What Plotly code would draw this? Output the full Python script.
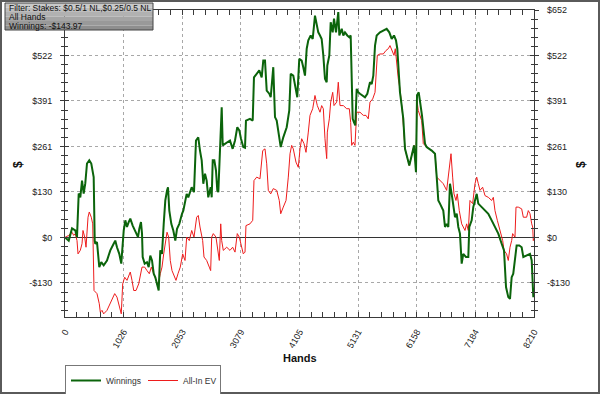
import numpy as np
import plotly.graph_objects as go

# ---------------- data ----------------
winnings_pts = [
    (0, 0), (65, -9), (123, 26), (180, 20), (210, 1), (240, 126), (268, 115), (298, 163), (327, 126), (355, 155),
    (385, 212), (425, 221), (460, 212), (485, 192), (502, 173), (520, -9), (530, -18), (560, -13), (600, -85), (635, -71),
    (677, -80), (735, -66), (793, -37), (852, -18), (880, -9), (910, -28), (950, -47), (985, -75), (1010, -9), (1028, 20),
    (1056, 49), (1085, 30), (1115, 44), (1143, 54), (1185, 34), (1231, 15), (1278, 1), (1301, 25), (1330, 44), (1348, 11),
    (1360, -56), (1395, -75), (1435, -71), (1465, -85), (1493, -52), (1523, -66), (1553, -104), (1581, -114), (1610, -133), (1640, -152),
    (1668, -37), (1698, -47), (1728, 39), (1756, 106), (1786, 135), (1803, 144), (1826, 77), (1861, 39), (1896, 20), (1931, -9),
    (1961, 25), (2001, 39), (2048, 68), (2071, 77), (2130, 125), (2158, 115), (2218, 144), (2258, 130), (2293, 278), (2333, 287),
    (2363, 249), (2393, 221), (2421, 154), (2451, 183), (2480, 163), (2508, 115), (2550, 144), (2568, 115), (2586, 221), (2614, 221),
    (2643, 192), (2666, 135), (2684, 130), (2713, 259), (2743, 373), (2761, 264), (2831, 273), (2888, 278), (2935, 254), (2976, 278),
    (3016, 316), (3051, 307), (3081, 283), (3121, 259), (3151, 257), (3168, 335), (3238, 340), (3286, 335), (3308, 459), (3356, 469),
    (3401, 479), (3443, 459), (3471, 507), (3501, 507), (3531, 421), (3576, 412), (3601, 402), (3646, 488), (3676, 345), (3706, 335),
    (3751, 287), (3776, 259), (3821, 287), (3881, 316), (3926, 364), (3951, 469), (3996, 464), (4026, 436), (4066, 402), (4101, 512),
    (4143, 507), (4171, 488), (4201, 464), (4231, 541), (4259, 565), (4301, 579), (4336, 569), (4376, 636), (4406, 608), (4434, 588),
    (4464, 579), (4493, 569), (4522, 522), (4551, 455), (4581, 445), (4592, 493), (4627, 522), (4651, 617), (4686, 588), (4709, 627),
    (4744, 588), (4784, 646), (4802, 579), (4844, 598), (4872, 579), (4901, 588), (4942, 579), (4977, 574), (5001, 579), (5019, 426),
    (5036, 340), (5059, 330), (5082, 321), (5106, 426), (5134, 416), (5164, 412), (5211, 407), (5251, 402), (5292, 412), (5339, 445),
    (5369, 440), (5397, 464), (5427, 550), (5456, 579), (5514, 588), (5584, 593), (5631, 598), (5677, 588), (5719, 569), (5759, 579),
    (5794, 565), (5817, 541), (5842, 474), (5864, 416), (5894, 378), (5922, 340), (5952, 254), (5992, 226), (6027, 206), (6069, 235),
    (6109, 264), (6144, 187), (6162, 407), (6192, 416), (6214, 393), (6249, 350), (6302, 269), (6331, 259), (6419, 249), (6477, 240),
    (6507, 173), (6535, 106), (6564, 97), (6622, 77), (6652, 30), (6681, 39), (6710, 30), (6739, 154), (6769, 125), (6797, 97),
    (6827, 58), (6857, 68), (6885, 30), (6914, 11), (6944, -75), (6972, -47), (7019, -56), (7060, -56), (7077, 30), (7119, 49),
    (7147, 87), (7177, 106), (7207, 125), (7235, 97), (7294, 87), (7352, 77), (7410, 68), (7469, 49), (7527, 30), (7585, 11),
    (7644, -18), (7685, -37), (7720, -142), (7760, -171), (7790, -176), (7819, -114), (7847, -104), (7877, -66), (7906, -23), (7952, -23),
    (7994, -28), (8023, -56), (8081, -52), (8140, -47), (8170, -66), (8187, -133), (8198, -171), (8210, -144),
]

allin_ev_pts = [
    (0, 0), (65, 6), (123, 15), (152, 6), (180, 11), (210, -9), (228, -47), (268, -37), (298, -18), (315, 20),
    (345, 1), (368, -28), (403, 58), (425, 73), (460, 58), (485, 39), (508, -152), (530, -157), (560, -161), (600, -190),
    (618, -214), (648, -209), (677, -219), (735, -209), (793, -190), (823, -181), (870, -161), (910, -171), (950, -200), (985, -219),
    (1010, -133), (1045, -114), (1085, -123), (1143, -99), (1173, -123), (1203, -152), (1243, -152), (1290, -133), (1348, -85), (1395, -85),
    (1435, -95), (1476, -104), (1511, -85), (1553, -104), (1593, -123), (1628, -138), (1668, -104), (1698, -85), (1728, -47), (1756, -9),
    (1786, 15), (1815, 1), (1843, -66), (1873, -95), (1920, -114), (1943, -123), (1978, -104), (2018, -85), (2060, -47), (2101, -66),
    (2130, 1), (2176, -9), (2218, 20), (2258, 1), (2305, 58), (2333, 63), (2363, 30), (2410, -9), (2433, -56), (2480, -66),
    (2526, -85), (2550, -95), (2568, 1), (2596, 11), (2643, 1), (2666, -28), (2701, -66), (2726, 39), (2743, -9), (2771, -37),
    (2831, -28), (2888, -37), (2935, -28), (2976, -42), (3016, 11), (3051, 1), (3093, -28), (3121, -47), (3151, -42), (3168, 34),
    (3238, 39), (3286, 49), (3308, 163), (3356, 173), (3413, 168), (3461, 249), (3501, 254), (3531, 211), (3559, 135), (3601, 125),
    (3646, 140), (3706, 135), (3751, 106), (3776, 68), (3821, 87), (3869, 106), (3909, 173), (3939, 240), (3968, 264), (3996, 254),
    (4043, 216), (4084, 201), (4114, 254), (4143, 283), (4184, 269), (4219, 244), (4259, 302), (4289, 350), (4336, 369), (4376, 407),
    (4417, 378), (4464, 359), (4493, 378), (4522, 369), (4551, 283), (4581, 226), (4592, 302), (4627, 340), (4651, 388), (4686, 416),
    (4709, 378), (4756, 388), (4784, 445), (4814, 378), (4872, 378), (4931, 369), (4977, 369), (5001, 330), (5019, 264), (5047, 273),
    (5076, 264), (5106, 359), (5164, 359), (5222, 350), (5269, 350), (5309, 340), (5339, 388), (5386, 397), (5427, 416), (5444, 474),
    (5467, 522), (5514, 526), (5572, 526), (5619, 536), (5659, 541), (5689, 550), (5724, 536), (5759, 522), (5782, 541), (5806, 493),
    (5834, 455), (5864, 426), (5894, 388), (5911, 350), (5952, 254), (5992, 226), (6027, 206), (6069, 235), (6109, 264), (6144, 198),
    (6162, 393), (6184, 364), (6244, 335), (6272, 269), (6331, 259), (6419, 249), (6477, 240), (6507, 173), (6564, 163), (6622, 154),
    (6681, 135), (6710, 173), (6739, 201), (6757, 240), (6786, 173), (6809, 125), (6844, 106), (6867, 125), (6902, 77), (6944, 39),
    (6972, 30), (7002, 20), (7031, 39), (7060, 20), (7089, 106), (7136, 97), (7177, 154), (7207, 173), (7235, 154), (7265, 135),
    (7311, 144), (7352, 120), (7410, 115), (7469, 106), (7498, 115), (7527, 77), (7568, 49), (7615, 20), (7662, -9), (7685, -37),
    (7730, -47), (7760, -66), (7790, -28), (7819, -9), (7836, 11), (7877, 1), (7895, 87), (7935, 87), (7994, 82), (8023, 58),
    (8081, 58), (8110, 77), (8140, 68), (8170, 39), (8187, 30), (8198, -9), (8210, -3),
]

x_tick_vals = [0, 1026.25, 2052.5, 3078.75, 4105, 5131.25, 6157.5, 7183.75, 8210]
x_tick_text = ["0", "1026", "2053", "3079", "4105", "5131", "6158", "7184", "8210"]
y_tick_vals = [-130.4, 0, 130.4, 260.8, 391.2, 521.6, 652]
y_tick_text = ["-$130", "$0", "$130", "$261", "$391", "$522", "$652"]
info_lines = ["Filter: Stakes: $0.5/1 NL,$0.25/0.5 NL", "All Hands", "Winnings: -$143.97"]

X_RANGE = [0, 8210]
Y_RANGE = [-228, 652]

win_hands, win_dollars = zip(*winnings_pts)
ev_hands, ev_dollars = zip(*allin_ev_pts)

# ---------------- figure ----------------
W, H = 600, 394
ML, MR, MT, MB = 65, 66, 10, 77
PW, PH = W - ML - MR, H - MT - MB


def px(x):
    return (x - ML) / PW


def py(y):
    return (H - MB - y) / PH


FONT = "Liberation Sans, Arial, sans-serif"
AX = "#3a3a3a"

fig = go.Figure()
fig.add_trace(go.Scatter(x=ev_hands, y=ev_dollars, mode="lines", name="All-In EV",
                         line=dict(color="#ee1c1c", width=1)))
fig.add_trace(go.Scatter(x=win_hands, y=win_dollars, mode="lines", name="Winnings",
                         line=dict(color="#0b640b", width=2)))

x_minor = list(np.arange(0, 8210.01, 8210 / 40))
y_minor = list(np.arange(0, Y_RANGE[0] - 1, -652 / 25)) + list(np.arange(0, 652.01, 652 / 25))

fig.update_layout(
    width=W, height=H,
    margin=dict(l=ML, r=MR, t=MT, b=MB, pad=0, autoexpand=False),
    paper_bgcolor="white", plot_bgcolor="white",
    font=dict(family=FONT, size=9, color="#222"),
    showlegend=True,
    legend=dict(orientation="h", x=0, xanchor="left", y=py(365), yanchor="top",
                bordercolor="#777", borderwidth=1, bgcolor="white",
                font=dict(size=8.5, color="#333"), traceorder="reversed",
                itemwidth=30, tracegroupgap=0, entrywidth=32, entrywidthmode="pixels"),
    xaxis=dict(range=X_RANGE, tickmode="array", tickvals=x_tick_vals, ticktext=x_tick_text,
               tickangle=-60, ticks="inside", ticklen=5, tickcolor=AX, ticklabelstandoff=5,
               showline=True, linecolor=AX, linewidth=1, mirror="allticks", automargin=False,
               showgrid=True, gridcolor="#a8a8a8", griddash="dot", gridwidth=1,
               zeroline=False, tickfont=dict(size=9, color="#222"),
               minor=dict(tickmode="array", tickvals=x_minor, ticks="inside", ticklen=3,
                          tickcolor=AX, showgrid=False)),
    yaxis=dict(range=Y_RANGE, tickmode="array", tickvals=y_tick_vals, ticktext=y_tick_text,
               ticks="outside", ticklen=4, tickcolor=AX, ticklabelstandoff=6, automargin=False,
               showline=True, linecolor=AX, linewidth=1, mirror="allticks",
               showgrid=True, gridcolor="#a8a8a8", griddash="dot", gridwidth=1,
               zeroline=True, zerolinecolor="#333", zerolinewidth=1,
               tickfont=dict(size=9, color="#222"),
               minor=dict(tickmode="array", tickvals=y_minor, ticks="outside", ticklen=3,
                          tickcolor=AX, showgrid=False)),
    yaxis3=dict(range=Y_RANGE, overlaying="y", tickmode="array", tickvals=y_tick_vals,
                ticks="inside", ticklen=4, tickcolor=AX, showticklabels=False, automargin=False,
                showline=False, mirror="allticks", showgrid=False, zeroline=False,
                minor=dict(tickmode="array", tickvals=y_minor, ticks="inside", ticklen=3,
                           tickcolor=AX, showgrid=False)),
    yaxis2=dict(range=Y_RANGE, overlaying="y", side="right", tickmode="array", automargin=False,
                tickvals=y_tick_vals, ticktext=y_tick_text, ticks="", ticklabelstandoff=12,
                showline=False, showgrid=False, zeroline=False,
                tickfont=dict(size=9, color="#222")),
)

# invisible traces to bind the overlay axes
fig.add_trace(go.Scatter(x=[], y=[], yaxis="y2", showlegend=False, hoverinfo="skip"))
fig.add_trace(go.Scatter(x=[], y=[], yaxis="y3", showlegend=False, hoverinfo="skip"))

shapes = []
# outer frame
shapes.append(dict(type="rect", xref="paper", yref="paper",
                   x0=px(1), x1=px(599), y0=py(393), y1=py(1),
                   line=dict(color="#5a5a5a", width=2), fillcolor="rgba(0,0,0,0)", layer="above"))
# info box (stepped gradient)
bx0, bx1, by0, by1 = 5, 153, 3, 30
grad = ["#c9c9c9", "#bdbdbd", "#b1b1b1", "#a5a5a5", "#999999", "#8e8e8e"]
step = (by1 - by0) / len(grad)
for i, c in enumerate(grad):
    shapes.append(dict(type="rect", xref="paper", yref="paper",
                       x0=px(bx0), x1=px(bx1), y0=py(by0 + step * (i + 1)), y1=py(by0 + step * i),
                       line=dict(width=0), fillcolor=c, layer="above"))
shapes.append(dict(type="rect", xref="paper", yref="paper",
                   x0=px(bx0), x1=px(bx1), y0=py(by1), y1=py(by0),
                   line=dict(color="#444", width=1), fillcolor="rgba(0,0,0,0)", layer="above"))
fig.update_layout(shapes=shapes)

ann = []
for i, t in enumerate(info_lines):
    ann.append(dict(text=t, xref="paper", yref="paper", x=px(7), y=py(8.3 + 8.9 * i),
                    xanchor="left", yanchor="middle", showarrow=False,
                    font=dict(family=FONT, size=8.5, color="#111")))
ann.append(dict(text="<b>Hands</b>", xref="paper", yref="paper", x=px(300), y=py(358),
                xanchor="center", yanchor="middle", showarrow=False,
                font=dict(family=FONT, size=11, color="#111")))
ann.append(dict(text="<b>$</b>", xref="paper", yref="paper", x=px(18), y=py(165),
                xanchor="center", yanchor="middle", showarrow=False, textangle=-90,
                font=dict(family=FONT, size=12, color="#111")))
ann.append(dict(text="<b>$</b>", xref="paper", yref="paper", x=px(581), y=py(165),
                xanchor="center", yanchor="middle", showarrow=False, textangle=-90,
                font=dict(family=FONT, size=12, color="#111")))
fig.update_layout(annotations=ann)

fig.write_html("out.html", config={"displayModeBar": False},
               post_script="document.body.style.margin='0px';document.body.style.padding='0px';"
                           "document.body.style.overflow='hidden';")
